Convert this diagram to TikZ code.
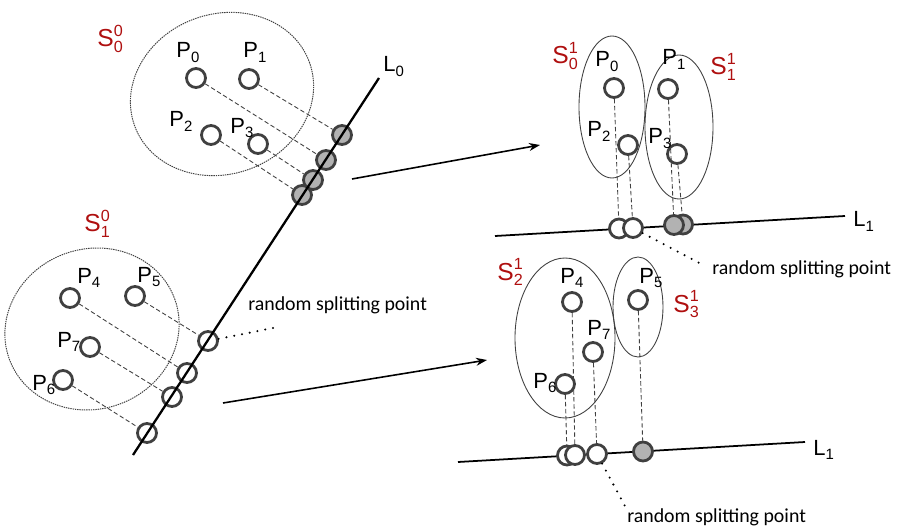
\documentclass[tikz,border=0pt]{standalone}
\usepackage{fontspec}
\setmainfont{Liberation Sans}
\newfontfamily\notefont{Carlito}
\usetikzlibrary{arrows.meta, calc}

\definecolor{setred}{RGB}{175,15,15}
\definecolor{ringgray}{RGB}{64,64,64}
\definecolor{projgray}{RGB}{178,178,178}

\newcommand\Sub[2]{#1\raisebox{-2.3pt}{\fontsize{8.5}{10}\selectfont #2}}
\newcommand\Pl[1]{\Sub{P}{#1}}
\newcommand\Sl[2]{S\raisebox{-3.4pt}{\fontsize{9.2}{8}\selectfont\shortstack[l]{#2\\#1}}}

\tikzset{
  pnt/.style={circle,draw=ringgray,line width=1.6pt,inner sep=0pt,minimum size=0.38cm},
  opnt/.style={pnt,fill=white},
  gpnt/.style={pnt,fill=projgray},
  prj/.style={dashed,dash pattern=on 2.5pt off 1.5pt,line width=0.5pt,draw=ringgray},
  grpdot/.style={line width=0.55pt,draw=ringgray,dash pattern=on 0.8pt off 0.5pt},
  grp/.style={line width=0.5pt,draw=ringgray},
  leader/.style={line width=1.3pt,line cap=round,dash pattern=on 0pt off 4.5pt},
  lbl/.style={inner sep=0pt,anchor=base west,font=\fontsize{12.5}{14}\selectfont},
  slbl/.style={lbl,text=setred,font=\fontsize{14}{16}\selectfont},
  note/.style={inner sep=0pt,anchor=base west,font=\notefont\fontsize{11.3}{13}\selectfont},
  arr/.style={-{Stealth[length=2.2mm,width=1.6mm]},line width=0.9pt}
}

\begin{document}
\begin{tikzpicture}[x=0.02cm,y=-0.02cm]
  \useasboundingbox (0,0) rectangle (900,527);

  % first level, line L0
  \draw[grpdot,rotate around={20:(222,94)}] (222,94) ellipse [x radius=93, y radius=80];
  \draw[grpdot,rotate around={20:(92,329)}] (92,329) ellipse [x radius=88, y radius=80];

  \node[opnt] (a0) at (196,78) {};
  \node[opnt] (a1) at (249,79) {};
  \node[opnt] (a2) at (211,135) {};
  \node[opnt] (a3) at (258,144) {};
  \node[opnt] (a4) at (70,298) {};
  \node[opnt] (a5) at (135,296) {};
  \node[opnt] (a7) at (90,347) {};
  \node[opnt] (a6) at (63,380) {};

  \node[gpnt] (b1) at (342,135) {};
  \node[gpnt] (b0) at (326,160) {};
  \node[gpnt] (b3) at (313,180) {};
  \node[gpnt] (b2) at (302,195) {};
  \node[pnt] (b5) at (208,341) {};
  \node[pnt] (b4) at (187,373) {};
  \node[pnt] (b7) at (172,397) {};
  \node[pnt] (b6) at (147,433) {};

  \coordinate (l0top) at (379,78);
  \coordinate (l0bot) at (133,455);
  \draw[line width=1.3pt] (l0top) -- (l0bot);

  \draw[prj] (a0) -- (b0);
  \draw[prj] (a1) -- (b1);
  \draw[prj] (a2) -- (b2);
  \draw[prj] (a3) -- (b3);
  \draw[prj] (a4) -- (b4);
  \draw[prj] (a5) -- (b5);
  \draw[prj] (a6) -- (b6);
  \draw[prj] (a7) -- (b7);

  \node[lbl] (la0) at (176,58) {\Pl0};
  \node[lbl] (la1) at (243,58) {\Pl1};
  \node[lbl] (la2) at (169,127) {\Pl2};
  \node[lbl] (la3) at (230,133) {\Pl3};
  \node[lbl] (la4) at (77,283) {\Pl4};
  \node[lbl] (la5) at (137,282) {\Pl5};
  \node[lbl] (la7) at (57,347) {\Pl7};
  \node[lbl] (la6) at (32,390) {\Pl6};
  \node[lbl] (l0) at (383,72) {\Sub{L}{0}};
  \node[slbl] (s00) at (97,47) {\Sl00};
  \node[slbl] (s01) at (84,232) {\Sl10};

  \coordinate (sp0) at (278,327);
  \draw[leader] (b5) -- (sp0);
  \node[note] (n0) at (248,310) {random splitting point};

  % arrows to second level
  \coordinate (m0) at (352,179);
  \coordinate (m1) at (540,145);
  \coordinate (m2) at (223,403);
  \coordinate (m3) at (487,360);
  \draw[arr] (m0) -- (m1);
  \draw[arr] (m2) -- (m3);

  % second level, upper line L1
  \draw[grp] (612,107) ellipse [x radius=33, y radius=71];
  \draw[grp] (679,127) ellipse [x radius=34, y radius=72];

  \coordinate (t1a) at (495,236);
  \coordinate (t1b) at (845,216);
  \draw[line width=1pt] (t1a) -- (t1b);

  \node[opnt] (c0) at (614,88) {};
  \node[opnt] (c2) at (628,145) {};
  \node[opnt] (c1) at (668,89) {};
  \node[opnt] (c3) at (677,154) {};

  \node[gpnt] (d3) at (683,224.5) {};
  \node[gpnt] (d1) at (674,225) {};
  \node[opnt] (d0) at (619,228.5) {};
  \node[opnt] (d2) at (633,228) {};

  \draw[prj] (c0) -- (d0);
  \draw[prj] (c2) -- (d2);
  \draw[prj] (c1) -- (d1);
  \draw[prj] (c3) -- (d3);

  \node[lbl] (lc0) at (595,67) {\Pl0};
  \node[lbl] (lc1) at (662,65) {\Pl1};
  \node[lbl] (lc2) at (587,137) {\Pl2};
  \node[lbl] (lc3) at (648,144) {\Pl3};
  \node[lbl] (l1a) at (853,227) {\Sub{L}{1}};
  \node[slbl] (s10) at (552,64) {\Sl01};
  \node[slbl] (s11) at (710,75) {\Sl11};

  \coordinate (sp1) at (705,266);
  \draw[leader] (d2) -- (sp1);
  \node[note] (n1) at (712,275) {random splitting point};

  % second level, lower line L1
  \draw[grp] (565,338) ellipse [x radius=50, y radius=80];
  \draw[grp] (638,307) ellipse [x radius=25, y radius=50];

  \coordinate (t2a) at (458,462);
  \coordinate (t2b) at (805,442);
  \draw[line width=1pt] (t2a) -- (t2b);

  \node[opnt] (e4) at (572,302) {};
  \node[opnt] (e7) at (593,352) {};
  \node[opnt] (e6) at (565,384) {};
  \node[opnt] (e5) at (638,300) {};

  \node[opnt] (f6) at (567,455.5) {};
  \node[opnt] (f4) at (575,455) {};
  \node[opnt] (f7) at (597,454) {};
  \node[gpnt] (f5) at (643,451.5) {};

  \draw[prj] (e6) -- (f6);
  \draw[prj] (e4) -- (f4);
  \draw[prj] (e7) -- (f7);
  \draw[prj] (e5) -- (f5);

  \node[lbl] (le4) at (560,283) {\Pl4};
  \node[lbl] (le5) at (639,283) {\Pl5};
  \node[lbl] (le7) at (587,335) {\Pl7};
  \node[lbl] (le6) at (533,388) {\Pl6};
  \node[lbl] (l1b) at (813,455) {\Sub{L}{1}};
  \node[slbl] (s12) at (497,280) {\Sl21};
  \node[slbl] (s13) at (673,312) {\Sl31};

  \coordinate (sp2) at (626,508);
  \draw[leader] (f7) -- (sp2);
  \node[note] (n2) at (627,522) {random splitting point};

\end{tikzpicture}
\end{document}
